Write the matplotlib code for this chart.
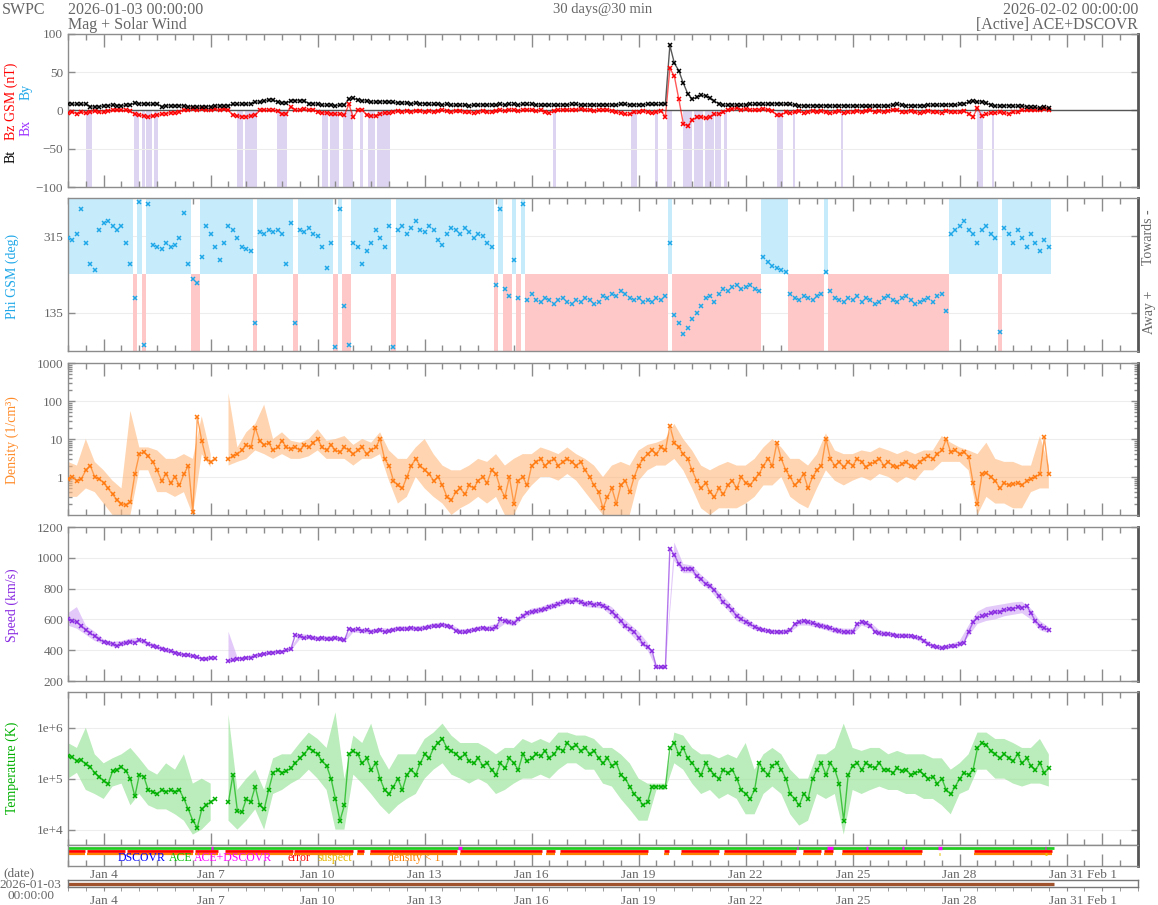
import matplotlib
matplotlib.use('Agg')
import matplotlib.pyplot as plt
import matplotlib.dates as mdates
import matplotlib.ticker as mticker
import numpy as np
import pandas as pd

plt.rcParams['font.family'] = ['Liberation Serif', 'DejaVu Serif']

nan = np.nan

# time base: 3-hourly samples for the series, 6-hourly for the min/max bands
start = pd.Timestamp('2026-01-03 00:00')
end = pd.Timestamp('2026-02-02 00:00')
times = pd.date_range(start, periods=221, freq='3h')
band_times = pd.date_range(start, periods=111, freq='6h')

tick_dates = ['2026-01-04', '2026-01-07', '2026-01-10', '2026-01-13', '2026-01-16',
              '2026-01-19', '2026-01-22', '2026-01-25', '2026-01-28', '2026-01-31',
              '2026-02-01']
tick_labels = ['Jan 4', 'Jan 7', 'Jan 10', 'Jan 13', 'Jan 16', 'Jan 19', 'Jan 22',
               'Jan 25', 'Jan 28', 'Jan 31', 'Feb 1']

# Bt (nT)
bt = [9, 8.5, 8, 8, 8.5, 5, 4.5, 5,
      6, 6.5, 7, 6.5, 6, 7, 7.5, 10,
      9, 8.5, 8.5, 8, 9, 5, 6, 6,
      6, 6.5, 6, 5, 5, 4.5, 5, 5,
      5, 6, 6, 6, 6.5, 8, 8, 8.5,
      8, 9, 11, 11, 12, 14, 14, 11,
      10, 10, 13, 13, 12.5, 13, 9, 9,
      8, 7, 7, 7, 6.5, 7, 7.5, 15,
      16, 14, 13, 12, 11, 11, 11, 11.5,
      11, 10.5, 10, 10, 9.5, 9, 9.5, 9,
      9, 8.5, 8, 8, 7.5, 8, 7, 7,
      7, 7, 6.5, 7, 7, 7.5, 7, 7.5,
      7, 8, 7.5, 8, 8, 7.5, 8, 8,
      8, 7.5, 7, 7, 7.5, 7, 7, 7.5,
      7.5, 8, 8, 7.5, 7, 7.5, 7.5, 7,
      7.5, 7.5, 7, 7.5, 8, 8, 7.5, 7.5,
      7.5, 7.5, 8, 8, 8, 8, 9, 85,
      62, 52, 36, 22, 15, 17, 20, 19,
      16, 12, 9, 7, 7, 7.5, 7, 7,
      7.5, 8, 8, 8.5, 8, 8.5, 8.5, 9,
      8.5, 8, 8, 7, 6.5, 6, 6, 6.5,
      6, 6, 6.5, 6, 6, 6, 6.5, 6,
      6, 6, 6, 5.5, 6, 6, 6, 6,
      6, 7.5, 8, 7, 6.5, 6.5, 6, 6.5,
      6.5, 7, 7, 7, 7, 7.5, 7.5, 7,
      8, 9, 11, 12, 11, 11.5, 10, 7,
      6, 6, 6, 6.5, 6, 5.5, 6, 5,
      4, 4, 3.5, 4, 3.5]

# Bz GSM (nT)
bz = [-3, -2, -4, -2, -3, -2, -1, -2,
      -2, -1, 0, 1, 0, 0, -1, -5,
      -6, -7, -8, -7, -6, -5, -4, -3,
      -3, -2, 1, 1, 2, 1, 2, 1,
      1, 2, 1, 2, 0, -6, -7, -8,
      -8, -7, -6, 0, 1, 0, 0, -1,
      -5, -4, 5, 1, 0, 2, 0, 1,
      -2, -3, -3, -4, -5, -5, -6, 8,
      -9, 0, 1, -6, -7, -7, -4, -3,
      -3, -2, -1, -2, -1, -2, -1, -1,
      -2, -1, -2, -1, 0, -1, -2, -1,
      -1, -2, -2, -3, -2, -1, -2, -2,
      -1, 0, -1, 1, 0, -1, 0, 1,
      0, -1, 0, -2, -3, -1, 0, 1,
      1, 0, 1, 2, 0, 1, -1, 0,
      0, 1, -1, -2, -3, -5, -5, -2,
      -2, -1, -2, -3, -2, -1, -8, 55,
      45, 15, -17, -20, -13, -9, -8, -10,
      -9, -5, -4, -2, 0, 2, 3, 1,
      2, 0, 1, 0, 2, 1, -1, -6,
      -6, -2, -3, -2, -1, -3, -2, -1,
      -2, -1, -2, -3, -2, -1, -3, -2,
      -2, -1, -2, -1, 0, -2, -1, -2,
      -1, 1, 1, -2, -2, -1, -2, -3,
      -2, -1, -2, -2, -3, -1, -2, -2,
      -2, -1, -4, -8, 3, -7, -5, -3,
      -3, -2, -3, -4, -2, -2, 0, 0,
      1, 0, 1, 2, 1]

# southward Bz periods, days after start
bz_south = [(0.5, 0.67), (1.85, 1.99), (2.07, 2.15), (2.2, 2.35), (2.4, 2.52),
            (4.74, 4.9), (4.95, 5.3), (5.86, 6.14), (7.12, 7.3), (7.35, 7.6),
            (7.7, 7.99), (8.19, 8.27), (8.41, 8.6), (8.65, 9.03), (13.6, 13.68),
            (15.78, 15.95), (16.46, 16.54), (16.79, 16.93), (17.24, 17.5),
            (17.55, 17.8), (17.85, 18.1), (18.15, 18.3), (18.38, 18.47),
            (19.88, 20.05), (20.33, 20.38), (21.67, 21.73), (25.48, 25.65),
            (25.9, 25.96)]

# Phi GSM (deg)
phi = [310, 305, 320, 380, 300, 250, 235, 330,
       345, 350, 340, 330, 340, 300, 250, 170,
       395, 60, 390, 295, 290, 285, 300, 290,
       295, 310, 370, 250, 215, 205, 265, 340,
       320, 290, 260, 300, 340, 330, 310, 290,
       285, 280, 110, 325, 320, 330, 325, 330,
       320, 250, 345, 110, 330, 325, 335, 320,
       315, 290, 240, 300, 55, 380, 150, 60,
       300, 290, 250, 280, 300, 330, 310, 290,
       340, 55, 330, 340, 320, 335, 350, 330,
       325, 340, 330, 305, 295, 320, 335, 330,
       320, 335, 325, 310, 320, 315, 300, 290,
       200, 380, 190, 175, 260, 170, 390, 165,
       180, 165, 160, 170, 165, 155, 165, 170,
       160, 155, 165, 160, 170, 165, 155, 160,
       175, 170, 180, 175, 185, 180, 170, 165,
       170, 160, 165, 160, 170, 165, 175, 300,
       130, 110, 85, 100, 120, 135, 150, 170,
       175, 160, 180, 190, 185, 195, 200, 190,
       195, 200, 190, 185, 265, 255, 245, 240,
       235, 230, 180, 170, 165, 175, 170, 165,
       175, 180, 230, 185, 170, 165, 160, 170,
       165, 175, 160, 170, 165, 155, 160, 170,
       175, 165, 160, 170, 175, 165, 155, 160,
       165, 170, 160, 175, 180, 140, 320, 330,
       340, 350, 330, 320, 300, 330, 340, 320,
       310, 90, 335, 320, 300, 330, 310, 290,
       320, 300, 280, 305, 290]

# proton density (1/cm3)
dens = [0.9, 1.0, 0.8, 0.9, 1.5, 2.0, 1.0, 0.9,
        0.7, 0.5, 0.35, 0.25, 0.2, 0.18, 0.22, 1.2,
        4.0, 4.5, 3.5, 2.5, 1.5, 0.8, 1.2, 0.7,
        1.0, 0.6, 1.2, 2.0, 0.12, 38, 9, 3,
        2.5, 3, nan, nan, 3, 3.5, 4, 5,
        7, 6, 20, 9, 7, 8, 5, 6,
        9, 6, 5.5, 6, 5, 7, 6, 8,
        10, 6, 5, 7, 5, 4.5, 6, 5,
        4, 5, 6, 4, 5, 6, 10, 3,
        2, 0.8, 0.6, 0.5, 1.0, 2, 3, 2,
        1.5, 1.2, 0.8, 1.0, 0.6, 0.3, 0.25, 0.4,
        0.5, 0.35, 0.6, 0.5, 0.8, 1.0, 0.7, 1.5,
        1.2, 0.5, 0.3, 1.0, 0.2, 0.8, 1.0, 0.6,
        2, 2.5, 3, 2, 2.5, 3, 2, 2.5,
        3, 2.5, 2, 2.5, 1.5, 1.0, 0.6, 0.4,
        0.15, 0.3, 0.5, 0.2, 0.6, 0.8, 0.4, 1.0,
        2, 3, 4, 5, 4, 6, 5, 22,
        8, 6, 4, 3, 1.5, 0.8, 0.5, 0.7,
        0.4, 0.3, 0.5, 0.35, 0.6, 0.8, 0.5, 1.0,
        0.7, 0.6, 0.9, 1.2, 2, 3, 2, 8,
        3, 1.5, 1.0, 0.6, 0.8, 1.2, 0.5, 1.0,
        1.5, 2, 10, 3, 2, 2.5, 1.8, 2.5,
        2, 3, 2.5, 1.8, 2.2, 2.5, 3, 2,
        2.5, 2, 1.8, 2.2, 2.5, 2, 1.8, 2.5,
        3, 3.5, 3, 4, 5, 10, 4.5, 5,
        4, 4.5, 3.4, 0.7, 0.2, 1.2, 1.3, 1.0,
        0.8, 0.5, 0.7, 0.6, 0.65, 0.7, 0.6, 0.8,
        0.9, 1.0, 1.2, 11, 1.2]

dens_lo = [0.3, 0.3, 0.5, 0.4, 0.2, 0.1, 0.1, 0.1, 1.5, 1.5, 0.4, 0.4,
           0.3, 0.4, 0.1, 4, 1.8, nan, 2, 2.5, 3, 5, 4, 3,
           4, 3, 3, 3.5, 5, 3, 3, 3, 2, 3, 3, 4,
           0.8, 0.2, 0.3, 1.0, 0.5, 0.3, 0.2, 0.1, 0.15, 0.2, 0.3, 0.2,
           0.3, 0.1, 0.1, 0.3, 0.6, 1, 1, 0.8, 1.2, 0.8, 0.4, 0.2,
           0.1, 0.1, 0.1, 0.1, 0.8, 1.5, 2, 2, 3, 1.5, 0.5, 0.15,
           0.1, 0.15, 0.15, 0.15, 0.2, 0.3, 0.6, 0.6, 1, 0.3, 0.2, 0.15,
           0.5, 1.5, 0.8, 0.6, 0.8, 1, 0.8, 1.2, 1, 0.7, 1, 0.8,
           1.5, 1.5, 2.5, 2.5, 2.5, 1.5, 0.1, 0.3, 0.2, 0.2, 0.15, 0.15,
           0.4, 0.5, 0.5]
dens_hi = [2.5, 2, 10, 2.5, 1.5, 0.8, 0.5, 55, 6, 6, 5, 3,
           3, 4, 3, 40, 4, nan, 160, 6, 15, 25, 80, 10,
           15, 9, 8, 10, 18, 9, 10, 12, 7, 10, 8, 15,
           5, 3, 3, 6, 10, 4, 2, 1.5, 1.5, 2, 3, 2.5,
           4, 2, 3, 4, 4, 6, 5, 4, 6, 4, 3, 2,
           1, 2, 2.5, 2, 5, 7, 8, 10, 25, 10, 5, 2,
           1.5, 2, 2.5, 2, 2, 3, 6, 10, 6, 3, 3, 2,
           4, 14, 5, 4, 4, 5, 4.5, 6, 5, 4, 5, 4,
           5, 5, 12, 8, 6, 5, 4, 8, 3, 2.5, 2.5, 2,
           2, 12, 2]

# bulk speed (km/s)
speed = [600, 590, 580, 560, 530, 510, 490, 470,
         455, 450, 440, 425, 440, 450, 455, 450,
         465, 460, 440, 430, 420, 410, 400, 395,
         385, 375, 370, 370, 360, 355, 345, 340,
         350, 348, nan, nan, 330, 335, 345, 345,
         350, 350, 365, 370, 375, 380, 385, 390,
         390, 400, 410, 500, 490, 480, 485, 480,
         475, 480, 475, 470, 480, 470, 465, 540,
         530, 535, 525, 530, 520, 525, 530, 520,
         525, 530, 540, 535, 540, 545, 540, 535,
         545, 550, 560, 555, 565, 560, 550, 525,
         520, 515, 525, 530, 540, 545, 540, 535,
         550, 600, 590, 580, 575, 600, 620, 640,
         650, 655, 660, 670, 680, 690, 700, 710,
         720, 715, 725, 710, 700, 705, 695, 700,
         690, 675, 650, 625, 590, 560, 540, 520,
         480, 440, 420, 395, 290, 288, 290, 1060,
         1020, 960, 930, 930, 925, 880, 860, 830,
         815, 790, 750, 710, 690, 660, 620, 600,
         585, 570, 550, 540, 530, 525, 520, 518,
         515, 520, 530, 570, 580, 590, 580, 575,
         565, 560, 550, 545, 530, 525, 520, 515,
         520, 570, 580, 575, 560, 520, 510, 505,
         505, 500, 495, 490, 495, 490, 485, 480,
         460, 440, 425, 420, 415, 420, 425, 430,
         440, 450, 520, 580, 610, 620, 630, 640,
         645, 650, 660, 665, 670, 680, 675, 690,
         640, 590, 560, 545, 530]

speed_lo = [560, 540, 500, 460, 440, 420, 425, 440, 450, 425, 405, 385,
            375, 360, 350, 335, 340, nan, 320, 335, 340, 355, 365, 375,
            380, 395, 470, 470, 460, 460, 465, 450, 515, 510, 505, 515,
            510, 525, 525, 525, 530, 545, 550, 535, 505, 510, 525, 525,
            530, 570, 555, 600, 630, 640, 660, 680, 700, 705, 680, 675,
            670, 620, 560, 510, 450, 400, 280, 280, 980, 900, 900, 830,
            790, 720, 660, 590, 560, 530, 515, 505, 500, 515, 560, 560,
            545, 530, 510, 500, 500, 560, 540, 490, 490, 480, 480, 470,
            445, 410, 400, 410, 420, 490, 570, 590, 600, 620, 630, 640,
            600, 530, 510]
speed_hi = [640, 680, 560, 520, 470, 455, 460, 475, 480, 455, 435, 415,
            395, 380, 370, 355, 360, nan, 520, 355, 360, 375, 385, 395,
            400, 415, 505, 500, 490, 490, 495, 480, 545, 540, 535, 545,
            540, 555, 555, 555, 560, 575, 580, 565, 535, 540, 555, 555,
            570, 610, 595, 640, 670, 680, 700, 720, 740, 745, 720, 715,
            710, 680, 620, 570, 520, 450, 300, 300, 1100, 960, 950, 890,
            840, 780, 720, 650, 610, 570, 545, 535, 530, 545, 600, 600,
            585, 570, 550, 540, 540, 600, 580, 530, 520, 510, 510, 500,
            475, 440, 430, 440, 460, 560, 650, 680, 690, 700, 710, 715,
            670, 590, 550]

# proton temperature (K)
temp = [2.8e5, 2.6e5, 2.2e5, 2.3e5, 1.9e5, 1.7e5, 1.3e5, 1.1e5,
        9e4, 8e4, 1.4e5, 1.5e5, 1.7e5, 1.4e5, 1.0e5, 4.5e4,
        1.2e5, 1.1e5, 6e4, 5.5e4, 5e4, 6e4, 5.5e4, 6e4,
        5.5e4, 6e4, 4e4, 2.5e4, 1.5e4, 1.1e4, 2.5e4, 3e4,
        3.5e4, 4e4, nan, nan, 3.5e4, 1.2e5, 2.3e4, 2.2e4,
        4e4, 3.5e4, 7e4, 3e4, 2.5e4, 6e4, 1.3e5, 1.5e5,
        1.3e5, 1.4e5, 1.6e5, 2.0e5, 2.5e5, 3e5, 4e5, 3.5e5,
        3e5, 2.2e5, 1.8e5, 1.0e5, 4e4, 1.5e4, 3e4, 3e5,
        3.5e5, 3e5, 2e5, 2.5e5, 1.5e5, 2e5, 1e5, 6e4,
        5e4, 7e4, 1e5, 6e4, 1.2e5, 1.5e5, 1.2e5, 2e5,
        3e5, 2.5e5, 4e5, 5e5, 6e5, 4e5, 3.5e5, 3e5,
        2.5e5, 3e5, 2.2e5, 2e5, 2.5e5, 1.8e5, 2e5, 1.5e5,
        1.2e5, 2e5, 1.6e5, 2.5e5, 2e5, 1.5e5, 3e5, 2.2e5,
        2.5e5, 3e5, 2.8e5, 3.5e5, 2.5e5, 3e5, 4e5, 3.5e5,
        5e5, 4e5, 4.5e5, 3.5e5, 4e5, 3e5, 3.5e5, 2.5e5,
        2e5, 2.5e5, 1.8e5, 2e5, 1.2e5, 1e5, 7e4, 5e4,
        4e4, 3e4, 3.5e4, 7e4, 7e4, 7e4, 7e4, 4e5,
        5e5, 3e5, 4e5, 2.5e5, 2e5, 1.5e5, 1.2e5, 2e5,
        1.5e5, 1.2e5, 1e5, 1.5e5, 1.3e5, 1.5e5, 1e5, 6e4,
        5e4, 4e4, 6e4, 2e5, 1.5e5, 1.2e5, 1.8e5, 2e5,
        1.5e5, 1e5, 5e4, 4e4, 3e4, 5e4, 4e4, 1e5,
        1.5e5, 2e5, 1.2e5, 2e5, 1.5e5, 8e4, 1.5e4, 1.2e5,
        1.8e5, 2e5, 1.5e5, 2e5, 1.8e5, 1.6e5, 2e5, 1.5e5,
        1.5e5, 1.3e5, 1.6e5, 1.4e5, 1.5e5, 1.2e5, 1.3e5, 1.4e5,
        1.2e5, 1e5, 1.1e5, 8e4, 1e5, 6e4, 5e4, 7e4,
        1e5, 1.3e5, 1.2e5, 1.5e5, 4e5, 5e5, 4.5e5, 3.5e5,
        3e5, 2.5e5, 3e5, 2.5e5, 2.2e5, 3e5, 2e5, 2.5e5,
        1.8e5, 1.5e5, 2e5, 1.3e5, 1.6e5]

temp_lo = [1e5, 1.3e5, 6e4, 5e4, 4e4, 7e4, 8e4, 3e4, 5e4, 3e4, 2.5e4, 2.5e4,
           2e4, 1.5e4, 8e3, 1e4, 1.5e4, nan, 1.5e4, 1e4, 1.5e4, 2.5e4, 1e4, 5e4,
           6e4, 8e4, 1e5, 1.5e5, 1e5, 6e4, 1e4, 1e4, 1.2e5, 8e4, 5e4, 3e4,
           2e4, 3e4, 4e4, 5e4, 1e5, 1.5e5, 2e5, 1.2e5, 1e5, 8e4, 1e5, 8e4,
           5e4, 6e4, 8e4, 1e5, 1e5, 1.2e5, 1e5, 1.5e5, 2e5, 2e5, 1.5e5, 1.5e5,
           8e4, 7e4, 4e4, 2.5e4, 1.5e4, 1.5e4, 6e4, 6e4, 2e5, 1.5e5, 8e4, 5e4,
           6e4, 4e4, 5e4, 4e4, 2e4, 2e4, 5e4, 7e4, 5e4, 2e4, 1.2e4, 1.5e4,
           5e4, 4e4, 5e4, 8e3, 6e4, 5e4, 6e4, 7e4, 6e4, 6e4, 5e4, 5e4,
           4e4, 4e4, 3e4, 2e4, 5e4, 6e4, 1.5e5, 1.5e5, 1e5, 1e5, 8e4, 7e4,
           8e4, 8e4, 7e4]
temp_hi = [5e5, 4e5, 1e6, 3e5, 2e5, 2.5e5, 3e5, 4e5, 2.5e5, 1.5e5, 1.2e5, 2e5,
           1.5e5, 3e5, 8e4, 1e5, 8e4, nan, 1.8e6, 6e4, 1e5, 1.5e5, 6e4, 2.5e5,
           3e5, 3e5, 5e5, 8e5, 6e5, 4e5, 2e6, 1e5, 7e5, 5e5, 1.2e6, 3e5,
           1.5e5, 3e5, 3e5, 3e5, 6e5, 8e5, 1.2e6, 7e5, 5e5, 5e5, 5e5, 4e5,
           3e5, 4e5, 4e5, 6e5, 5e5, 6e5, 5e5, 8e5, 8e5, 7e5, 7e5, 6e5,
           4e5, 4e5, 3e5, 2e5, 1e5, 8e4, 8e4, 8e4, 8e5, 7e5, 4e5, 3e5,
           3e5, 2.5e5, 3e5, 2.5e5, 5e5, 1.5e5, 3e5, 4e5, 3e5, 1.5e5, 1e5, 1e5,
           3e5, 3e5, 4e5, 1.2e6, 4e5, 3.5e5, 4e5, 4e5, 3e5, 3.5e5, 3e5, 3e5,
           3e5, 2.5e5, 2.5e5, 1.5e5, 2e5, 3e5, 8e5, 8e5, 6e5, 6e5, 5e5, 4e5,
           4e5, 6e5, 3e5]

# source / quality strip, days after start
ace_span = (0, 27.65)
ace_dscovr = [(4.0, 4.06), (10.93, 11.05), (20.43, 20.48), (21.28, 21.45),
              (22.38, 22.43), (23.38, 23.43), (24.4, 24.5), (27.38, 27.43)]
flagged = [(0, 0.47), (0.54, 1.6), (1.65, 3.5), (3.55, 4.2), (4.4, 6.3),
           (6.35, 8.0), (8.1, 8.3), (8.47, 10.9), (11.0, 13.3), (13.4, 13.65),
           (13.8, 16.26), (16.7, 16.85), (17.2, 18.25), (18.4, 20.4),
           (20.6, 21.1), (21.2, 21.45), (21.7, 23.95), (25.4, 27.6)]
suspect = [(24.42, 24.46), (27.4, 27.44)]

# ---------------------------------------------------------------------------
W, H = 1158, 905
GRAY = '#666666'
SPINE = '#8c8c8c'
C_PHI = '#1ea7e8'
C_DEN = '#ff7a10'
C_SPD = '#8a2be2'
C_TMP = '#00b000'

t = mdates.date2num(times.to_pydatetime())
tb = mdates.date2num(band_times.to_pydatetime())
t0 = mdates.date2num(start.to_pydatetime())
t1 = mdates.date2num(end.to_pydatetime())
ticks = mdates.date2num(pd.to_datetime(tick_dates).to_pydatetime())

fig = plt.figure(figsize=(W / 100, H / 100), dpi=100)


def rect(top, bottom):
    return [68 / W, 1 - bottom / H, 1070 / W, (bottom - top) / H]


def ftext(x, y, s, **kw):
    kw.setdefault('color', GRAY)
    kw.setdefault('fontsize', 10)
    fig.text(x / W, 1 - y / H, s, **kw)


def style(ax, labels=False):
    ax.set_xlim(t0, t1)
    ax.xaxis.set_major_locator(mticker.FixedLocator(ticks))
    ax.xaxis.set_minor_locator(mdates.HourLocator(byhour=[0, 12]))
    ax.tick_params(axis='x', which='major', direction='in', length=9, width=1,
                   top=True, bottom=True, color=SPINE, labelbottom=labels)
    ax.tick_params(axis='x', which='minor', direction='in', length=4.5, width=1,
                   top=True, bottom=True, color=SPINE)
    ax.tick_params(axis='y', which='both', direction='in', length=5, width=1,
                   left=True, right=True, color=SPINE, labelsize=9.5,
                   labelcolor=GRAY)
    for s in ax.spines.values():
        s.set_color(SPINE)
        s.set_linewidth(1)
    ax.spines['right'].set_color('#555555')
    ax.spines['right'].set_linewidth(2)
    ax.yaxis.grid(True, color='#ededed', lw=0.8)
    ax.set_axisbelow(True)


def series(ax, y, color, line=True, ms=3):
    if line:
        ax.plot(t, y, '-', color=color, lw=1.0, alpha=0.65, zorder=3)
    ax.plot(t, y, 'x', color=color, ms=ms, mew=1.1, zorder=4)


def tdays(d):
    return t0 + d


# panel 1: Bt / Bz
ax1 = fig.add_axes(rect(34, 187))
style(ax1)
for a, b in bz_south:
    ax1.axvspan(tdays(a), tdays(b), ymin=0, ymax=0.5, color='#ddd4f1', lw=0, zorder=0)
ax1.axhline(0, color='#555555', lw=1, zorder=2)
series(ax1, bz, 'red')
series(ax1, bt, 'black')
ax1.set_ylim(-100, 100)
ax1.set_yticks([-100, -50, 0, 50, 100])

# panel 2: Phi
ax2 = fig.add_axes(rect(198, 351))
style(ax2)
phi_arr = np.array(phi, dtype=float)
toward = phi_arr >= 225
ax2.bar(t[toward], 180, width=0.125, bottom=225, color='#c6ebfb', lw=0, zorder=1)
ax2.bar(t[~toward], 180, width=0.125, bottom=45, color='#ffc8c8', lw=0, zorder=1)
series(ax2, phi, C_PHI, line=False)
ax2.set_ylim(45, 405)
ax2.set_yticks([135, 315])

# panel 3: density
ax3 = fig.add_axes(rect(363, 515))
style(ax3)
ax3.set_yscale('log')
ax3.fill_between(tb, dens_lo, dens_hi, color='#ffb97d', alpha=0.6, lw=0, zorder=2)
series(ax3, dens, C_DEN)
ax3.set_ylim(0.1, 1000)
ax3.yaxis.set_major_locator(mticker.FixedLocator([1, 10, 100, 1000]))
ax3.yaxis.set_major_formatter(mticker.FixedFormatter(['1', '10', '100', '1000']))
ax3.yaxis.set_minor_locator(mticker.LogLocator(subs=np.arange(2, 10)))
ax3.yaxis.set_minor_formatter(mticker.NullFormatter())
ax3.tick_params(axis='y', which='minor', length=3)

# panel 4: speed
ax4 = fig.add_axes(rect(527, 681))
style(ax4)
ax4.fill_between(tb, speed_lo, speed_hi, color='#cfa6f5', alpha=0.6, lw=0, zorder=2)
series(ax4, speed, C_SPD)
ax4.set_ylim(200, 1200)
ax4.set_yticks([200, 400, 600, 800, 1000, 1200])

# panel 5: temperature
ax5 = fig.add_axes(rect(692, 845))
style(ax5)
ax5.set_yscale('log')
ax5.fill_between(tb, temp_lo, temp_hi, color='#8ee08e', alpha=0.6, lw=0, zorder=2)
series(ax5, temp, C_TMP)
ax5.set_ylim(5e3, 5e6)
ax5.yaxis.set_major_locator(mticker.FixedLocator([1e4, 1e5, 1e6]))
ax5.yaxis.set_major_formatter(mticker.FixedFormatter(['1e+4', '1e+5', '1e+6']))
ax5.yaxis.set_minor_locator(mticker.NullLocator())

# panel 6: source / quality strip
ax6 = fig.add_axes(rect(845, 866))
style(ax6, labels=True)
ax6.yaxis.grid(False)
ax6.set_ylim(0, 1)
ax6.set_yticks([])
ax6.tick_params(axis='x', which='both', top=False, labelsize=9.5, labelcolor=GRAY, pad=2)
ax6.set_xticklabels(tick_labels)
ax6.hlines(0.84, tdays(ace_span[0]), tdays(ace_span[1]), color='#22cc22', lw=2)
for a, b in ace_dscovr:
    ax6.hlines(0.84, tdays(a), tdays(b), color='#ff00ff', lw=2.4)
for a, b in flagged:
    ax6.hlines(0.70, tdays(a), tdays(b), color='red', lw=2)
    ax6.hlines(0.55, tdays(a), tdays(b), color='#ff8000', lw=1.6)
for a, b in suspect:
    ax6.hlines(0.55, tdays(a), tdays(b), color='#e6c000', lw=2)

# panel 7: date bar
ax7 = fig.add_axes(rect(880, 887))
ax7.set_xlim(t0, t1)
ax7.set_ylim(0, 1)
ax7.set_yticks([])
ax7.xaxis.set_major_locator(mticker.FixedLocator(ticks))
ax7.xaxis.set_minor_locator(mdates.HourLocator(byhour=[0, 12]))
ax7.set_xticklabels(tick_labels)
ax7.tick_params(axis='x', which='both', direction='out', length=3, color=SPINE,
                labelsize=9.5, labelcolor=GRAY, pad=3)
for s in ax7.spines.values():
    s.set_color('#777777')
    s.set_linewidth(1)
ax7.hlines(0.5, tdays(ace_span[0]), tdays(ace_span[1]), color='#a0522d', lw=2.4)

# header text
ftext(2, 10, 'SWPC', va='center', fontsize=11.5)
ftext(68, 10, '2026-01-03 00:00:00', va='center', fontsize=11.5)
ftext(68, 25, 'Mag + Solar Wind', va='center', fontsize=11.5)
ftext(603, 10, '30 days@30 min', va='center', ha='center', fontsize=10.5)
ftext(1138, 10, '2026-02-02 00:00:00', va='center', ha='right', fontsize=11.5)
ftext(1138, 25, '[Active] ACE+DSCOVR', va='center', ha='right', fontsize=11.5)

# axis labels
rot = dict(rotation=90, ha='center', va='center')
ftext(11, 156, 'Bt', color='black', **rot)
ftext(11, 101, 'Bz GSM (nT)', color='red', **rot)
ftext(26, 128, 'Bx', color='#9b30ff', **rot)
ftext(26, 92, 'By', color=C_PHI, **rot)
ftext(12, 276, 'Phi GSM (deg)', color=C_PHI, **rot)
ftext(12, 440, 'Density (1/cm\u00b3)', color='#ff8c2a', **rot)
ftext(12, 605, 'Speed (km/s)', color=C_SPD, **rot)
ftext(12, 768, 'Temperature (K)', color=C_TMP, **rot)
ftext(1149, 237, 'Towards -', **rot)
ftext(1149, 312, 'Away +', **rot)

# strip legend
leg_y = 858
leg_fs = 8.5
ftext(118, leg_y, 'DSCOVR', color='#0000ff', va='center', fontsize=leg_fs)
ftext(168.5, leg_y, 'ACE', color='#00c000', va='center', fontsize=leg_fs)
ftext(194, leg_y, 'ACE+DSCOVR', color='#ff00ff', va='center', fontsize=leg_fs)
ftext(288, leg_y, 'error', color='red', va='center', fontsize=leg_fs)
ftext(318, leg_y, 'suspect', color='#e6b800', va='center', fontsize=leg_fs)
ftext(388, leg_y, 'density < 1', color='#ff8000', va='center', fontsize=leg_fs)

# date bar caption
ftext(3, 873, '(date)', va='center', fontsize=9.5)
ftext(30, 885, '2026-01-03', va='center', ha='center', fontsize=9.5)
ftext(31, 896, '00:00:00', va='center', ha='center', fontsize=9.5)

fig.savefig('out.png', dpi=100)
